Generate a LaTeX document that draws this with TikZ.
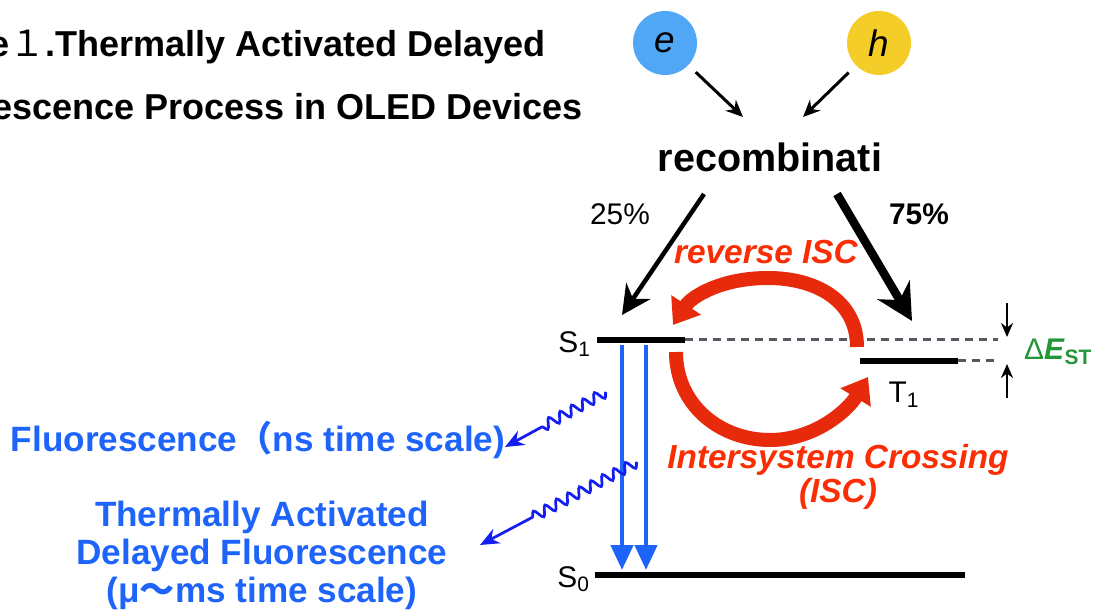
\documentclass[tikz,border=0pt]{standalone}
\usepackage{fontspec}
\setmainfont{Liberation Sans}
\newfontfamily\cjk{Noto Sans CJK JP}
\usetikzlibrary{arrows.meta,decorations.pathmorphing}
\definecolor{ebl}{RGB}{80,167,245}
\definecolor{hyl}{RGB}{244,205,40}
\definecolor{iscred}{RGB}{250,45,5}
\definecolor{arcred}{RGB}{232,42,12}
\definecolor{flblue}{RGB}{30,100,250}
\definecolor{wvblue}{RGB}{20,30,240}
\definecolor{dgray}{RGB}{85,90,98}
\definecolor{stgreen}{RGB}{35,150,55}
\begin{document}
\begin{tikzpicture}[x=0.02cm,y=-0.02cm,every node/.style={inner sep=1pt},
  big/.style={font=\fontsize{20.5}{24}\selectfont\bfseries},
  lbl/.style={font=\fontsize{17}{20}\selectfont},
  isc/.style={text=iscred,align=center,font=\fontsize{19}{19.4}\selectfont\bfseries\itshape},
  fl/.style={text=flblue,align=center,font=\fontsize{20}{21.6}\selectfont\bfseries},
  carrier/.style={circle,minimum size=1.28cm,inner sep=0pt,font=\fontsize{21}{24}\selectfont\itshape},
  level/.style={line width=0.13cm},
  gap/.style={dgray,line width=0.06cm,dash pattern=on 0.16cm off 0.12cm},
  emit/.style={flblue,line width=0.09cm,-{Triangle[length=0.5cm,width=0.44cm]}},
  isca/.style={arcred,line width=0.28cm,-{Triangle[length=0.48cm,width=0.68cm]}},
  wave/.style={wvblue,line width=0.055cm,decorate,-{Stealth[length=0.38cm,width=0.32cm]},
    decoration={snake,amplitude=0.1cm,segment length=0.26cm,post length=#1}}]
\useasboundingbox (0,0) rectangle (1102,614);
\node[big,anchor=east] (ttl1) at (548,47) {e{\cjk\mdseries １}.Thermally Activated Delayed};
\node[big,anchor=east] (ttl2) at (585,107) {escence Process in OLED Devices};
\node[carrier,fill=ebl] (el) at (665,43) {e};
\node[carrier,fill=hyl] (ho) at (879,43) {h};
\node[font=\fontsize{22.5}{26}\selectfont\bfseries] (rec) at (770,157) {recombinati};
\coordinate (recl) at (743,117);
\coordinate (recr) at (803,117);
\draw[line width=0.06cm,-{Stealth[length=0.34cm,width=0.3cm]},shorten <=0.2cm] (el) -- (recl);
\draw[line width=0.06cm,-{Stealth[length=0.34cm,width=0.3cm]},shorten <=0.2cm] (ho) -- (recr);
\node[lbl] (p25) at (620,214) {25\%};
\node[font=\fontsize{17}{20}\selectfont\bfseries] (p75) at (919,214) {75\%};
\coordinate (s25) at (704,194);
\coordinate (s75) at (837,194);
\coordinate (s1in) at (622,315);
\coordinate (t1in) at (912,321);
\draw[line width=0.09cm,-{Stealth[length=0.58cm,width=0.58cm]}] (s25) -- (s1in);
\draw[line width=0.17cm,-{Stealth[length=0.72cm,width=0.74cm]}] (s75) -- (t1in);
\coordinate (s1a) at (597,340);
\coordinate (s1b) at (685,340);
\coordinate (t1a) at (860,361);
\coordinate (t1b) at (958,361);
\coordinate (s0a) at (595,575);
\coordinate (s0b) at (965,575);
\coordinate (gtop) at (998,340);
\coordinate (gbot) at (998,361);
\draw[gap] (s1b) -- (gtop);
\draw[gap] (t1b) -- (gbot);
\draw[level] (s1a) -- (s1b);
\draw[level] (t1a) -- (t1b);
\draw[level] (s0a) -- (s0b);
\node[lbl,anchor=east] (s1lbl) at (593,344) {S\textsubscript{1}};
\node[lbl] (t1lbl) at (904,395) {T\textsubscript{1}};
\node[lbl,anchor=east] (s0lbl) at (592,579) {S\textsubscript{0}};
\node[anchor=west,text=stgreen,font=\fontsize{17}{20}\selectfont] (dest) at (1022,352) {Δ\textbf{\textit{E}}\textsubscript{\textbf{ST}}};
\coordinate (dtop) at (1007,303);
\coordinate (dtip) at (1007,337);
\coordinate (utop) at (1007,398);
\coordinate (utip) at (1007,364);
\draw[line width=0.05cm,-{Stealth[length=0.28cm,width=0.24cm]}] (dtop) -- (dtip);
\draw[line width=0.05cm,-{Stealth[length=0.28cm,width=0.24cm]}] (utop) -- (utip);
\coordinate (f1a) at (622,345);
\coordinate (f1b) at (622,570);
\coordinate (f2a) at (646,345);
\coordinate (f2b) at (646,570);
\draw[emit] (f1a) -- (f1b);
\draw[emit] (f2a) -- (f2b);
\coordinate (rupa) at (857,347);
\coordinate (rupb) at (673,325);
\coordinate (rloa) at (676,352);
\coordinate (rlob) at (868,377);
\draw[isca] (rupa) .. controls (857,300) and (815,278) .. (768,278) .. controls (722,278) and (692,296) .. (rupb);
\draw[isca] (rloa) .. controls (676,405) and (720,440) .. (770,440) .. controls (815,440) and (848,410) .. (rlob);
\node[isc] (risc) at (766,252) {reverse ISC};
\node[isc] (iscl) at (838,477) {Intersystem Crossing\\(ISC)};
\coordinate (w1a) at (606,392);
\coordinate (w1b) at (505,447);
\coordinate (w2a) at (637,462);
\coordinate (w2b) at (480,545);
\draw[wave=0.8cm] (w1a) -- (w1b);
\draw[wave=1.1cm] (w2a) -- (w2b);
\node[fl] (fltxt) at (258,440) {Fluorescence{\cjk （}ns time scale)};
\node[fl] (tadf) at (262,555) {Thermally Activated\\Delayed Fluorescence\\(μ{\cjk ～}ms time scale)};
\end{tikzpicture}
\end{document}
